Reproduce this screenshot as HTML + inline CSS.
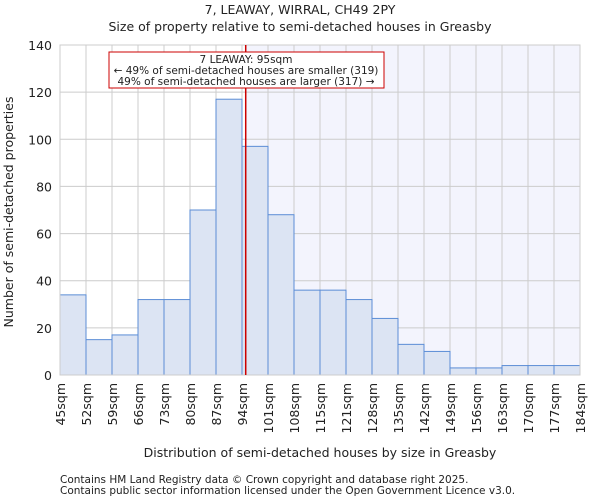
<!DOCTYPE html>
<html><head><meta charset="utf-8"><style>
body{margin:0;background:#fff;font-family:"DejaVu Sans","Liberation Sans",sans-serif}
svg text{font-family:"DejaVu Sans","Liberation Sans",sans-serif;fill:#222}
</style></head><body>
<svg id="c" width="600" height="500"></svg>
<script>
const binStarts=[45,52,59,66,73,80,87,94,101,108,115,121,128,135,142,149,156,163,170,177];
const tickLabels=["45sqm","52sqm","59sqm","66sqm","73sqm","80sqm","87sqm","94sqm","101sqm","108sqm","115sqm","121sqm","128sqm","135sqm","142sqm","149sqm","156sqm","163sqm","170sqm","177sqm","184sqm"];
const counts=[34,15,17,32,32,70,117,97,68,36,36,32,24,13,10,3,3,4,4,4];
const yTicks=[0,20,40,60,80,100,120,140];
const propertySize=95;
const NS="http://www.w3.org/2000/svg",svg=document.getElementById('c');
const L=60,R=580,T=45,B=375,bw=(R-L)/counts.length;
const y=v=>B-(v/140)*(B-T);
const xi=i=>L+i*bw;
function px(v){let i=0;while(i<binStarts.length-1&&binStarts[i+1]<=v)i++;const hi=i<binStarts.length-1?binStarts[i+1]:184;return xi(i)+(v-binStarts[i])/(hi-binStarts[i])*bw;}
function el(t,a,p){const e=document.createElementNS(NS,t);for(const k in a)e.setAttribute(k,a[k]);(p||svg).appendChild(e);return e;}
const lx=px(propertySize);
const sh=el('rect',{x:lx,y:T,width:R-lx,height:B-T,fill:'#f3f4fd'});


for(let i=0;i<=counts.length;i++){const g=el('line',{x1:xi(i),x2:xi(i),y1:T,y2:B,stroke:'#ccc'});

}
yTicks.forEach(v=>{const g=el('line',{x1:L,x2:R,y1:y(v),y2:y(v),stroke:'#ccc'});


const t=el('text',{x:L-8,y:y(v)+5,'text-anchor':'end','font-size':12.5});t.textContent=v;

});
counts.forEach((c,i)=>{const b=el('rect',{x:xi(i),y:y(c),width:bw,height:B-y(c),fill:'#dce4f3',stroke:'#5b8dd6','stroke-width':1});

});
tickLabels.forEach((s,i)=>{const t=el('text',{transform:`translate(${xi(i)+5},${B+8}) rotate(-90)`,'text-anchor':'end','font-size':12.5});t.textContent=s;

});
el('rect',{x:L,y:T,width:R-L,height:B-T,fill:'none',stroke:'#ccc'});
const ln=el('line',{x1:lx,x2:lx,y1:T,y2:B,stroke:'#c00','stroke-width':1.5});


const box=el('rect',{x:109,y:52,width:275,height:36,fill:'#fff',stroke:'#c00','stroke-width':1});


[["7 LEAWAY: 95sqm",63],["← 49% of semi-detached houses are smaller (319)",74],["49% of semi-detached houses are larger (317) →",85]].forEach(([s,yy])=>{const t=el('text',{x:246,y:yy,'text-anchor':'middle','font-size':10.5});t.textContent=s;

});
function txt(s,a,n){const t=el('text',a);t.textContent=s;}
txt("7, LEAWAY, WIRRAL, CH49 2PY",{x:300,y:14,'text-anchor':'middle','font-size':12.5},'chart-title');
txt("Size of property relative to semi-detached houses in Greasby",{x:300,y:31,'text-anchor':'middle','font-size':12.5},'chart-subtitle');
txt("Distribution of semi-detached houses by size in Greasby",{x:320,y:457,'text-anchor':'middle','font-size':12.5},'x-axis-title');
txt("Number of semi-detached properties",{transform:'translate(13,212) rotate(-90)','text-anchor':'middle','font-size':12.5},'y-axis-title');
txt("Contains HM Land Registry data © Crown copyright and database right 2025.",{x:60,y:483,'font-size':10.5,fill:'#444'},'footer-line-1');
txt("Contains public sector information licensed under the Open Government Licence v3.0.",{x:60,y:494,'font-size':10.5,fill:'#444'},'footer-line-2');
</script></body></html>
